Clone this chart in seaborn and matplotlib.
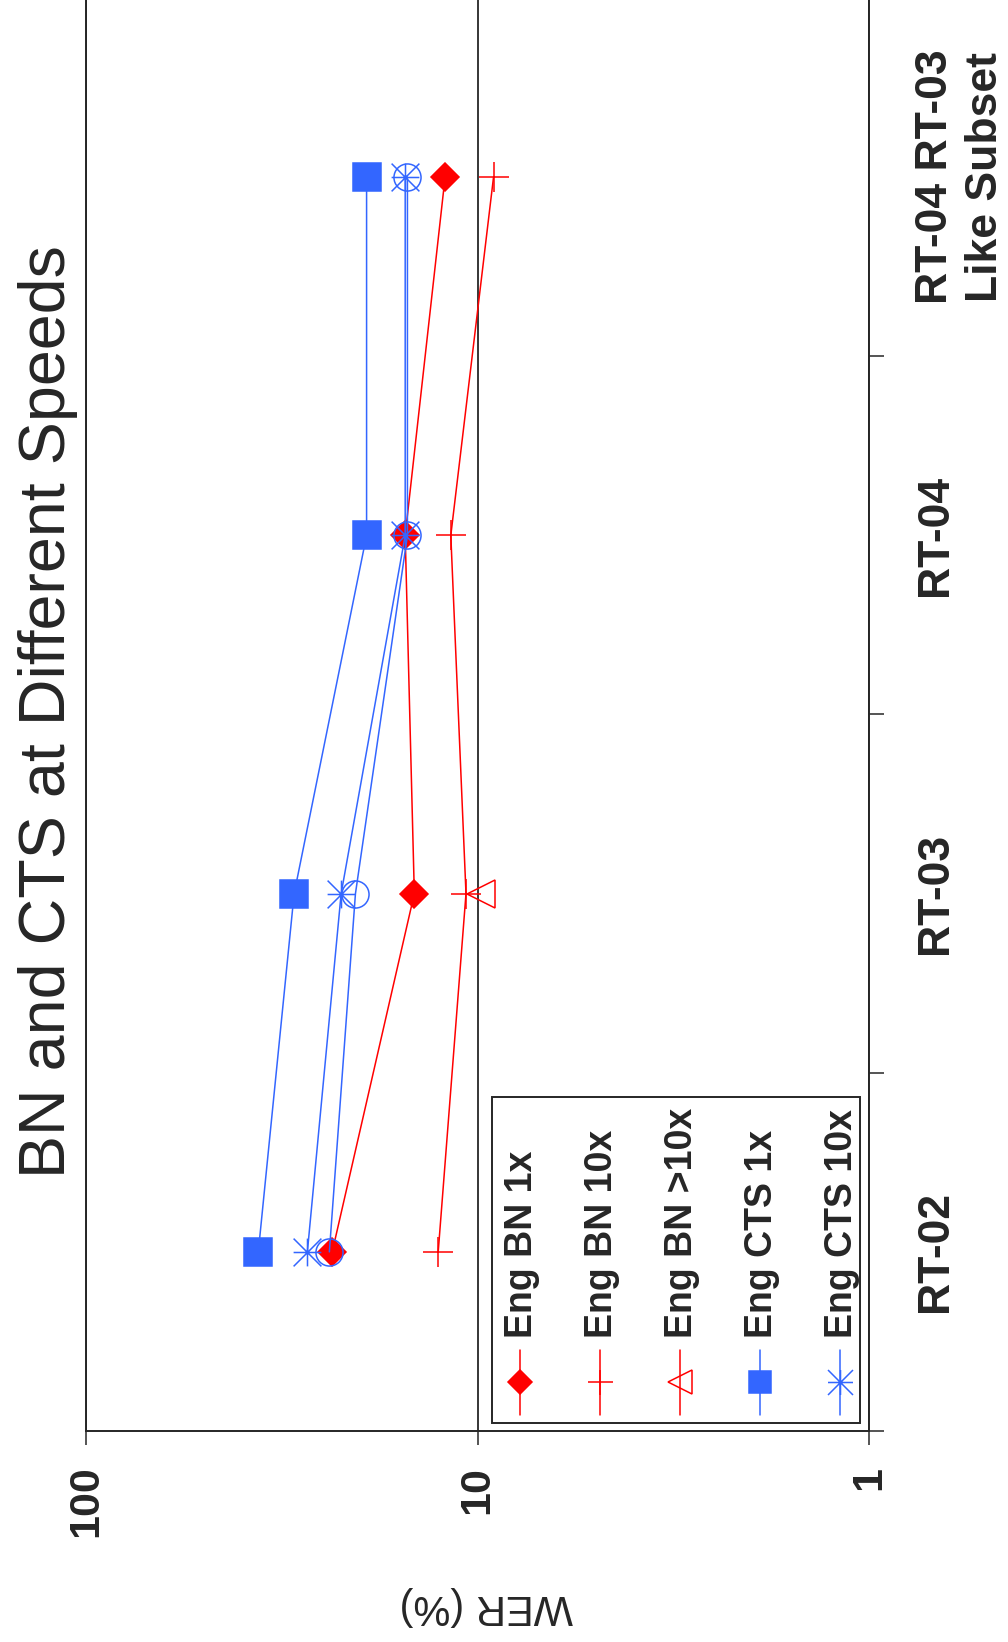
import numpy as np
import pandas as pd
import matplotlib
matplotlib.use("Agg")
import matplotlib.pyplot as plt
from matplotlib import font_manager
from matplotlib.lines import Line2D
from matplotlib.patches import Rectangle
from matplotlib.path import Path
import seaborn as sns

# ---- data -------------------------------------------------------------
categories = ["RT-02", "RT-03", "RT-04", "RT-04 RT-03\nLike Subset"]
bn_1x = [23.5, 14.5, 15.3, 12.1]
bn_10x = [12.6, 10.7, 11.7, 9.1]
bn_gt10x = [np.nan, 9.8, np.nan, np.nan]
cts_1x = [36.3, 29.4, 19.2, 19.2]
cts_10x = [27.2, 22.3, 15.3, 15.3]
cts_gt10x = [23.9, 20.5, 15.1, 15.1]
legend_names = ["Eng BN 1x", "Eng BN 10x", "Eng BN >10x", "Eng CTS 1x", "Eng CTS 10x"]
wer_ticks = [100, 10, 1]
wer_tick_labels = ["100", "10", "1"]
title_text = "BN and CTS at Different Speeds"
value_label = "WER (%)"

# ---- style ------------------------------------------------------------
sns.set_style("white")
plt.rcParams["font.family"] = ["Liberation Sans", "DejaVu Sans"]
INK = "#262626"
RED = "#ff0000"
BLUE = "#3366ff"


def has_font(name):
    try:
        font_manager.findfont(font_manager.FontProperties(family=name),
                              fallback_to_default=False)
        return True
    except ValueError:
        return False


if has_font("Liberation Sans Narrow"):
    tick_family, xtick_size, ytick_size = ["Liberation Sans Narrow", "Liberation Sans"], 35, 37
else:
    tick_family, xtick_size, ytick_size = ["Liberation Sans", "DejaVu Sans"], 31, 32

# asterisk: horizontal, vertical and both diagonals
asterisk = Path([(-1, 0), (1, 0), (0, -1), (0, 1), (-1, -1), (1, 1), (-1, 1), (1, -1)],
                [Path.MOVETO, Path.LINETO] * 4)

W, H = 1008, 1642
fig = plt.figure(figsize=(W / 100, H / 100), dpi=100)
ax = fig.add_axes([86 / W, 211 / H, 783 / W, 1433 / H])
ax.set_xscale("log")

positions = np.arange(1, len(categories) + 1)

# (values, colour, marker, size, filled)
series = [
    (bn_1x, RED, "D", 14.3, True),
    (bn_10x, RED, "+", 21, False),
    (bn_gt10x, RED, "<", 20, False),
    (cts_1x, BLUE, "s", 20, True),
    (cts_10x, BLUE, asterisk, 20, False),
    (cts_gt10x, BLUE, "o", 19.5, False),
]

for vals, col, mk, ms, filled in series:
    df = pd.DataFrame({"wer": vals, "pos": positions}).dropna()
    sns.lineplot(data=df, x="wer", y="pos", orient="y", sort=False,
                 estimator=None, errorbar=None, legend=False, ax=ax,
                 color=col, linewidth=1.1, marker=mk, markersize=ms,
                 markerfacecolor=col if filled else "none",
                 markeredgecolor=col, markeredgewidth=1.1)

ax.set_xlabel("")
ax.set_ylabel("")
ax.set_xlim(100, 1)
ax.set_ylim(0.5, len(categories) + 0.5)

# WER axis (bottom)
ax.set_xticks(wer_ticks, labels=wer_tick_labels)
ax.xaxis.set_minor_locator(matplotlib.ticker.NullLocator())
ax.tick_params(axis="x", which="major", direction="out", length=10, width=1.1,
               color=INK, pad=15, labelrotation=90, labelsize=xtick_size,
               labelcolor=INK, bottom=True)
for lab in ax.get_xticklabels():
    lab.set_fontweight("bold")
    lab.set_family(tick_family)
    lab.set_ha("center")
    lab.set_va("top")
ax.xaxis.grid(True, which="major", color=INK, linewidth=1.3)
ax.yaxis.grid(False)

# category axis (right)
ax.yaxis.tick_right()
ax.set_yticks(np.arange(0.5, len(categories) + 1), labels=[""] * (len(categories) + 1))
ax.set_yticks(positions, labels=categories, minor=True)
ax.tick_params(axis="y", which="major", direction="out", length=11, width=1.1,
               color=INK, right=True, left=False)
ax.tick_params(axis="y", which="minor", length=0, pad=33, labelsize=ytick_size,
               labelcolor=INK, right=True, left=False)
for lab in ax.get_yticklabels(minor=True):
    lab.set_rotation(90)
    lab.set_fontweight("bold")
    lab.set_family(tick_family)
    lab.set_ha("left")
    lab.set_va("center")
    lab.set_multialignment("center")
    lab.set_linespacing(1.3)

for side in ["left", "right", "bottom"]:
    ax.spines[side].set_color(INK)
    ax.spines[side].set_linewidth(1.4)
ax.spines["top"].set_visible(False)


def fpx(x, y):
    return x / W, 1 - y / H


# title and value-axis label
fig.text(*fpx(48, 712), title_text, rotation=90, ha="center", va="center",
         fontsize=46.5, color=INK)
fig.text(*fpx(486, 1606), value_label, rotation=180, ha="center", va="center",
         fontsize=30, color=INK)

# legend box with vertical entries
x0, y0 = fpx(492, 1423)
x1, y1 = fpx(860, 1097)
fig.add_artist(Rectangle((x0, y0), x1 - x0, y1 - y0, transform=fig.transFigure,
                         facecolor="white", edgecolor=INK, linewidth=1.4))
legend_style = [
    (RED, "D", 12.7, True),
    (RED, "+", 18, False),
    (RED, "<", 17.3, False),
    (BLUE, "s", 16.5, True),
    (BLUE, asterisk, 18, False),
]
legend_x = [520, 600, 680, 760, 840]
for name, lx, (col, mk, ms, filled) in zip(legend_names, legend_x, legend_style):
    xa, ya = fpx(lx, 1350)
    xb, yb = fpx(lx, 1415)
    fig.add_artist(Line2D([xa, xb], [ya, yb], transform=fig.transFigure,
                          color=col, linewidth=1.1))
    xm, ym = fpx(lx, 1382)
    fig.add_artist(Line2D([xm], [ym], transform=fig.transFigure, linestyle="none",
                          marker=mk, markersize=ms, color=col,
                          markerfacecolor=col if filled else "none",
                          markeredgecolor=col, markeredgewidth=1.1))
    fig.text(*fpx(lx + 2, 1338), name, rotation=90, ha="center", va="bottom",
             fontsize=27, fontweight="bold", color=INK)

fig.savefig("out.png", dpi=100, facecolor="white")
